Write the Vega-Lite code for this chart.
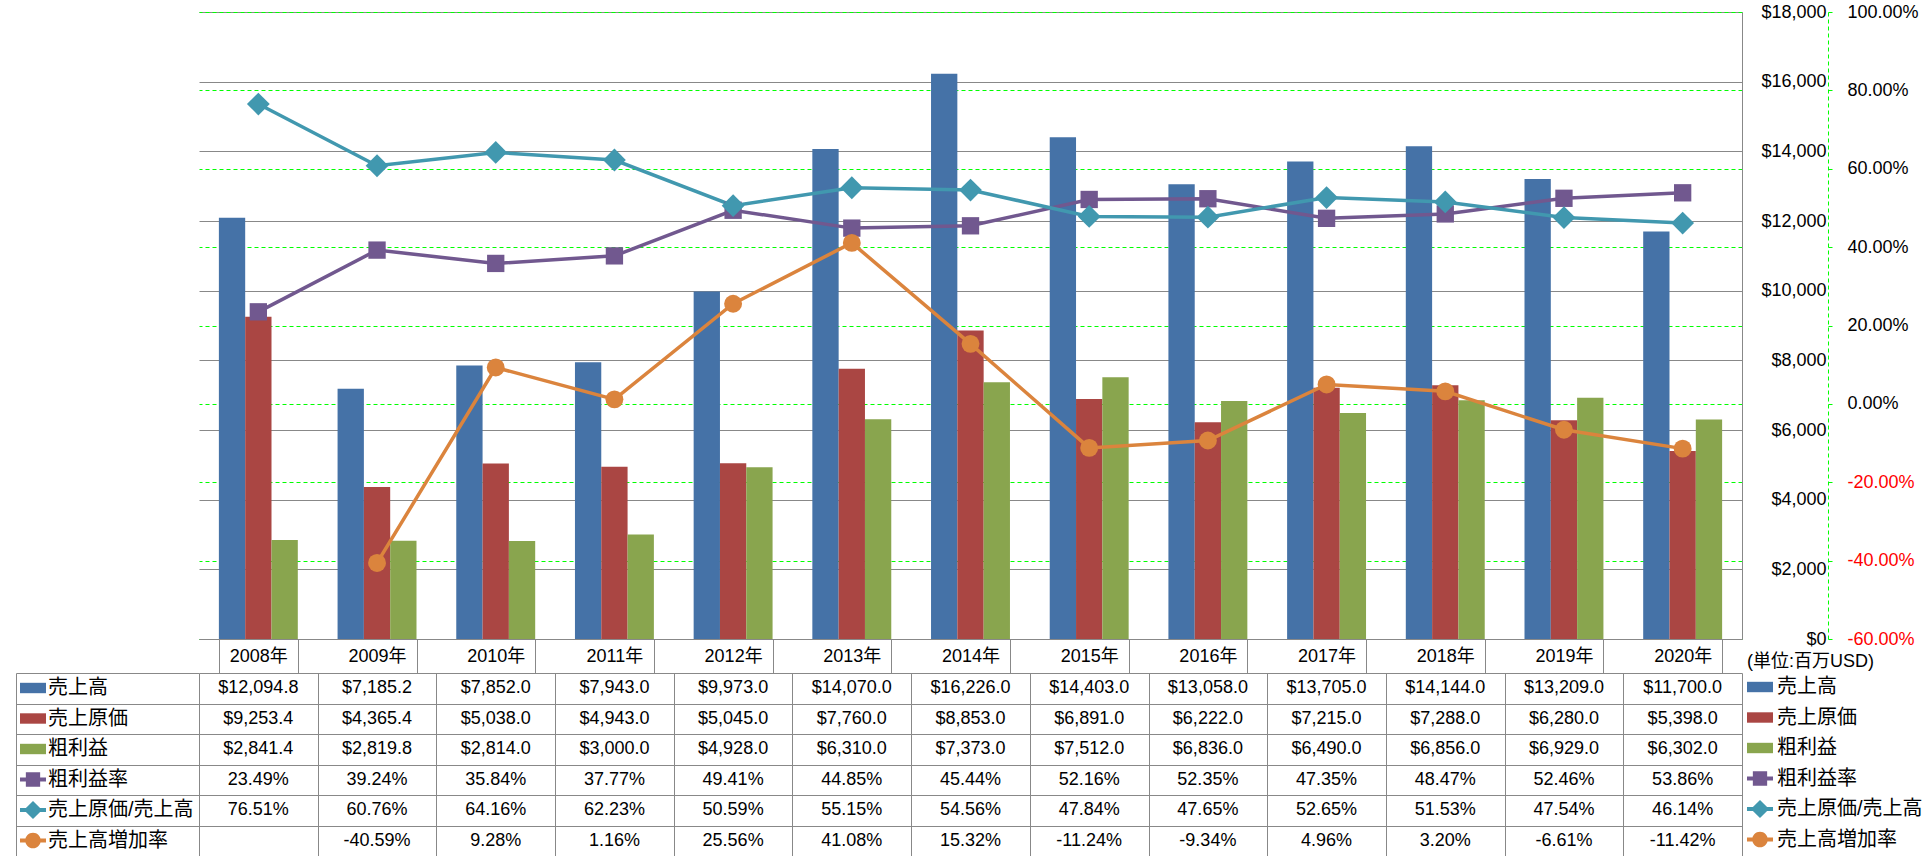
{
  "$schema": "https://vega.github.io/schema/vega-lite/v6.json",
  "padding": {"left": 16, "top": 3, "right": 0, "bottom": 0},
  "background": "white",
  "config": {
    "font": "Liberation Sans, Noto Sans CJK JP",
    "view": {"stroke": null},
    "locale": {"number": {"decimal": ".", "thousands": ",", "grouping": [3], "currency": ["$", ""], "minus": "-"}},
    "axis": {"labelFontSize": 18, "labelColor": "#000000", "title": null}
  },
  "datasets": {
    "fin": [
      {"year": "2008年", "series": "売上高", "value": 12094.8},
      {"year": "2009年", "series": "売上高", "value": 7185.2},
      {"year": "2010年", "series": "売上高", "value": 7852.0},
      {"year": "2011年", "series": "売上高", "value": 7943.0},
      {"year": "2012年", "series": "売上高", "value": 9973.0},
      {"year": "2013年", "series": "売上高", "value": 14070.0},
      {"year": "2014年", "series": "売上高", "value": 16226.0},
      {"year": "2015年", "series": "売上高", "value": 14403.0},
      {"year": "2016年", "series": "売上高", "value": 13058.0},
      {"year": "2017年", "series": "売上高", "value": 13705.0},
      {"year": "2018年", "series": "売上高", "value": 14144.0},
      {"year": "2019年", "series": "売上高", "value": 13209.0},
      {"year": "2020年", "series": "売上高", "value": 11700.0},
      {"year": "2008年", "series": "売上原価", "value": 9253.4},
      {"year": "2009年", "series": "売上原価", "value": 4365.4},
      {"year": "2010年", "series": "売上原価", "value": 5038.0},
      {"year": "2011年", "series": "売上原価", "value": 4943.0},
      {"year": "2012年", "series": "売上原価", "value": 5045.0},
      {"year": "2013年", "series": "売上原価", "value": 7760.0},
      {"year": "2014年", "series": "売上原価", "value": 8853.0},
      {"year": "2015年", "series": "売上原価", "value": 6891.0},
      {"year": "2016年", "series": "売上原価", "value": 6222.0},
      {"year": "2017年", "series": "売上原価", "value": 7215.0},
      {"year": "2018年", "series": "売上原価", "value": 7288.0},
      {"year": "2019年", "series": "売上原価", "value": 6280.0},
      {"year": "2020年", "series": "売上原価", "value": 5398.0},
      {"year": "2008年", "series": "粗利益", "value": 2841.4},
      {"year": "2009年", "series": "粗利益", "value": 2819.8},
      {"year": "2010年", "series": "粗利益", "value": 2814.0},
      {"year": "2011年", "series": "粗利益", "value": 3000.0},
      {"year": "2012年", "series": "粗利益", "value": 4928.0},
      {"year": "2013年", "series": "粗利益", "value": 6310.0},
      {"year": "2014年", "series": "粗利益", "value": 7373.0},
      {"year": "2015年", "series": "粗利益", "value": 7512.0},
      {"year": "2016年", "series": "粗利益", "value": 6836.0},
      {"year": "2017年", "series": "粗利益", "value": 6490.0},
      {"year": "2018年", "series": "粗利益", "value": 6856.0},
      {"year": "2019年", "series": "粗利益", "value": 6929.0},
      {"year": "2020年", "series": "粗利益", "value": 6302.0},
      {"year": "2008年", "series": "粗利益率", "value": 0.2349},
      {"year": "2009年", "series": "粗利益率", "value": 0.3924},
      {"year": "2010年", "series": "粗利益率", "value": 0.3584},
      {"year": "2011年", "series": "粗利益率", "value": 0.3777},
      {"year": "2012年", "series": "粗利益率", "value": 0.4941},
      {"year": "2013年", "series": "粗利益率", "value": 0.4485},
      {"year": "2014年", "series": "粗利益率", "value": 0.4544},
      {"year": "2015年", "series": "粗利益率", "value": 0.5216},
      {"year": "2016年", "series": "粗利益率", "value": 0.5235},
      {"year": "2017年", "series": "粗利益率", "value": 0.4735},
      {"year": "2018年", "series": "粗利益率", "value": 0.4847},
      {"year": "2019年", "series": "粗利益率", "value": 0.5246},
      {"year": "2020年", "series": "粗利益率", "value": 0.5386},
      {"year": "2008年", "series": "売上原価/売上高", "value": 0.7651},
      {"year": "2009年", "series": "売上原価/売上高", "value": 0.6076},
      {"year": "2010年", "series": "売上原価/売上高", "value": 0.6416},
      {"year": "2011年", "series": "売上原価/売上高", "value": 0.6223},
      {"year": "2012年", "series": "売上原価/売上高", "value": 0.5059},
      {"year": "2013年", "series": "売上原価/売上高", "value": 0.5515},
      {"year": "2014年", "series": "売上原価/売上高", "value": 0.5456},
      {"year": "2015年", "series": "売上原価/売上高", "value": 0.4784},
      {"year": "2016年", "series": "売上原価/売上高", "value": 0.4765},
      {"year": "2017年", "series": "売上原価/売上高", "value": 0.5265},
      {"year": "2018年", "series": "売上原価/売上高", "value": 0.5153},
      {"year": "2019年", "series": "売上原価/売上高", "value": 0.4754},
      {"year": "2020年", "series": "売上原価/売上高", "value": 0.4614},
      {"year": "2009年", "series": "売上高増加率", "value": -0.4059},
      {"year": "2010年", "series": "売上高増加率", "value": 0.0928},
      {"year": "2011年", "series": "売上高増加率", "value": 0.0116},
      {"year": "2012年", "series": "売上高増加率", "value": 0.2556},
      {"year": "2013年", "series": "売上高増加率", "value": 0.4108},
      {"year": "2014年", "series": "売上高増加率", "value": 0.1532},
      {"year": "2015年", "series": "売上高増加率", "value": -0.1124},
      {"year": "2016年", "series": "売上高増加率", "value": -0.0934},
      {"year": "2017年", "series": "売上高増加率", "value": 0.0496},
      {"year": "2018年", "series": "売上高増加率", "value": 0.0320},
      {"year": "2019年", "series": "売上高増加率", "value": -0.0661},
      {"year": "2020年", "series": "売上高増加率", "value": -0.1142}
    ]
  },
  "columns": 2,
  "spacing": {"row": 34, "column": 0},
  "bounds": "flush",
  "resolve": {
    "scale": {"fill": "independent", "shape": "independent"},
    "legend": {"fill": "independent", "shape": "independent"}
  },
  "concat": [
    {
      "width": 183,
      "height": 627,
      "data": {"values": [{"a": 1}]},
      "mark": {"type": "text"},
      "encoding": {"text": {"value": ""}}
    },
    {
      "width": 1543,
      "height": 627,
      "data": {"name": "fin"},
      "layer": [
        {
          "transform": [{"filter": {"field": "series", "oneOf": ["売上高", "売上原価", "粗利益"]}}],
          "mark": {"type": "bar"},
          "encoding": {
            "x": {"field": "year", "type": "nominal", "sort": null,
              "scale": {"type": "band", "domain": ["2008年","2009年","2010年","2011年","2012年","2013年","2014年","2015年","2016年","2017年","2018年","2019年","2020年"], "paddingInner": 0.335, "paddingOuter": 0.1675},
              "axis": {"orient": "bottom", "labelAngle": 0, "labelFontSize": 18, "labelBaseline": "middle", "labelPadding": -17, "tickBand": "extent", "tickSize": 34, "tickColor": "#888888", "domainColor": "#888888", "grid": false, "title": null}},
            "xOffset": {"field": "series", "type": "nominal", "scale": {"domain": ["売上高", "売上原価", "粗利益"], "paddingInner": 0, "paddingOuter": 0}},
            "y": {"field": "value", "type": "quantitative", "stack": null,
              "scale": {"domain": [0, 18000], "nice": false},
              "axis": {"orient": "right", "values": [0,2000,4000,6000,8000,10000,12000,14000,16000,18000], "format": "$,.0f", "grid": true, "gridColor": "#888888", "gridWidth": 1, "ticks": false, "domain": true, "domainColor": "#888888", "labelAlign": "right", "labelPadding": 84, "labelFontSize": 18, "labelFlush": false, "labelOverlap": false, "title": null, "zindex": 0}},
            "color": {"field": "series", "type": "nominal", "scale": {"domain": ["売上高", "売上原価", "粗利益", "粗利益率", "売上原価/売上高", "売上高増加率"], "range": ["#4572A7", "#AA4643", "#89A54E", "#71588F", "#4198AF", "#DB843D"]}, "legend": null}
          }
        },
        {
          "encoding": {
            "x": {"field": "year", "type": "nominal", "sort": null,
              "scale": {"type": "band", "domain": ["2008年","2009年","2010年","2011年","2012年","2013年","2014年","2015年","2016年","2017年","2018年","2019年","2020年"], "paddingInner": 0.335, "paddingOuter": 0.1675},
              "axis": {"orient": "bottom", "labelAngle": 0, "labelFontSize": 18, "labelBaseline": "middle", "labelPadding": -17, "tickBand": "extent", "tickSize": 34, "tickColor": "#888888", "domainColor": "#888888", "grid": false, "title": null}},
            "y": {"field": "value", "type": "quantitative",
              "scale": {"domain": [-0.6, 1.0], "nice": false, "zero": false},
              "axis": {"orient": "right", "offset": 86, "values": [-0.6,-0.4,-0.2,0,0.2,0.4,0.6,0.8,1.0], "format": ".2%", "grid": true, "gridColor": "#00FF00", "gridDash": [4, 3], "gridWidth": 1, "ticks": true, "tickColor": "#00FF00", "tickSize": 4, "domain": true, "domainColor": "#00FF00", "domainDash": [4, 3], "labelPadding": 15, "labelFontSize": 18, "labelColor": {"condition": {"test": "datum.value < 0", "value": "#FF0000"}, "value": "#000000"}, "labelFlush": false, "labelOverlap": false, "title": null, "zindex": 0}},
            "color": {"field": "series", "type": "nominal", "scale": {"domain": ["売上高", "売上原価", "粗利益", "粗利益率", "売上原価/売上高", "売上高増加率"], "range": ["#4572A7", "#AA4643", "#89A54E", "#71588F", "#4198AF", "#DB843D"]}, "legend": null}
          },
          "layer": [
            {
              "transform": [{"filter": {"field": "series", "oneOf": ["粗利益率", "売上原価/売上高", "売上高増加率"]}}],
              "mark": {"type": "line", "strokeWidth": 3.5}
            },
            {
              "transform": [{"filter": {"field": "series", "equal": "粗利益率"}}],
              "mark": {"type": "point", "filled": true, "opacity": 1, "shape": "square", "size": 300, "strokeWidth": 0}
            },
            {
              "transform": [{"filter": {"field": "series", "equal": "売上原価/売上高"}}],
              "mark": {"type": "point", "filled": true, "opacity": 1, "shape": "diamond", "size": 520, "strokeWidth": 0}
            },
            {
              "transform": [{"filter": {"field": "series", "equal": "売上高増加率"}}],
              "mark": {"type": "point", "filled": true, "opacity": 1, "shape": "circle", "size": 320, "strokeWidth": 0}
            }
          ]
        },
        {
          "transform": [{"filter": {"field": "series", "equal": "__none__"}}],
          "mark": {"type": "point", "filled": true, "opacity": 1},
          "encoding": {
            "fill": {"field": "series", "type": "nominal",
              "scale": {"domain": ["売上高", "売上原価", "粗利益", "粗利益率", "売上原価/売上高", "売上高増加率"], "range": ["#4572A7", "#AA4643", "#89A54E", "#71588F", "#4198AF", "#DB843D"]},
              "legend": {"title": "(単位:百万USD)", "orient": "none", "legendX": 1548, "legendY": 641, "symbolSize": 676, "symbolStrokeWidth": 0, "symbolOpacity": 1, "labelFontSize": 20, "labelOffset": 4, "rowPadding": 7.5, "titleFontSize": 18, "titleFontWeight": "normal", "titlePadding": 3, "padding": 0, "labelColor": "#000000", "titleColor": "#000000", "labelLimit": 400}},
            "shape": {"field": "series", "type": "nominal",
              "scale": {"domain": ["売上高", "売上原価", "粗利益", "粗利益率", "売上原価/売上高", "売上高増加率"], "range": ["M-1,-0.4H1V0.4H-1Z", "M-1,-0.4H1V0.4H-1Z", "M-1,-0.4H1V0.4H-1Z", "M-1,-0.15H1V0.15H-1Z M-0.55,-0.55H0.55V0.55H-0.55Z", "M-1,-0.15H1V0.15H-1Z M0,-0.7L0.7,0L0,0.7L-0.7,0Z", "M-1,-0.15H1V0.15H-1Z M-0.6,0A0.6,0.6 0 1,1 0.6,0A0.6,0.6 0 1,1 -0.6,0Z"]},
              "legend": {"title": "(単位:百万USD)", "orient": "none", "legendX": 1548, "legendY": 641, "symbolSize": 676, "symbolStrokeWidth": 0, "symbolOpacity": 1, "labelFontSize": 20, "labelOffset": 4, "rowPadding": 7.5, "titleFontSize": 18, "titleFontWeight": "normal", "titlePadding": 3, "padding": 0, "labelColor": "#000000", "titleColor": "#000000", "labelLimit": 400}}
          }
        }
      ],
      "resolve": {"scale": {"y": "independent"}}
    },
    {
      "width": 183,
      "height": 183,
      "data": {"name": "fin"},
      "transform": [{"filter": {"field": "series", "equal": "__none__"}}],
      "mark": {"type": "point", "filled": true, "opacity": 1},
      "encoding": {
        "y": {"field": "series", "type": "nominal", "sort": null,
          "scale": {"type": "band", "domain": ["売上高", "売上原価", "粗利益", "粗利益率", "売上原価/売上高", "売上高増加率"], "paddingInner": 0, "paddingOuter": 0},
          "axis": {"orient": "left", "labels": false, "ticks": false, "domain": true, "domainColor": "#888888", "grid": true, "gridColor": "#888888", "gridWidth": 1, "tickBand": "extent", "title": null}},
        "fill": {"field": "series", "type": "nominal",
          "scale": {"domain": ["売上高", "売上原価", "粗利益", "粗利益率", "売上原価/売上高", "売上高増加率"], "range": ["#4572A7", "#AA4643", "#89A54E", "#71588F", "#4198AF", "#DB843D"]},
          "legend": {"title": null, "orient": "none", "legendX": 4, "legendY": 2, "symbolSize": 676, "symbolStrokeWidth": 0, "symbolOpacity": 1, "labelFontSize": 20, "labelOffset": 2, "rowPadding": 7.5, "padding": 0, "labelColor": "#000000", "labelLimit": 400}},
        "shape": {"field": "series", "type": "nominal",
          "scale": {"domain": ["売上高", "売上原価", "粗利益", "粗利益率", "売上原価/売上高", "売上高増加率"], "range": ["M-1,-0.4H1V0.4H-1Z", "M-1,-0.4H1V0.4H-1Z", "M-1,-0.4H1V0.4H-1Z", "M-1,-0.15H1V0.15H-1Z M-0.55,-0.55H0.55V0.55H-0.55Z", "M-1,-0.15H1V0.15H-1Z M0,-0.7L0.7,0L0,0.7L-0.7,0Z", "M-1,-0.15H1V0.15H-1Z M-0.6,0A0.6,0.6 0 1,1 0.6,0A0.6,0.6 0 1,1 -0.6,0Z"]},
          "legend": {"title": null, "orient": "none", "legendX": 4, "legendY": 2, "symbolSize": 676, "symbolStrokeWidth": 0, "symbolOpacity": 1, "labelFontSize": 20, "labelOffset": 2, "rowPadding": 7.5, "padding": 0, "labelColor": "#000000", "labelLimit": 400}}
      }
    },
    {
      "width": 1543,
      "height": 183,
      "data": {"name": "fin"},
      "encoding": {
        "x": {"field": "year", "type": "nominal", "sort": null,
          "scale": {"type": "band", "domain": ["2008年","2009年","2010年","2011年","2012年","2013年","2014年","2015年","2016年","2017年","2018年","2019年","2020年"], "paddingInner": 0, "paddingOuter": 0},
          "axis": {"orient": "bottom", "labels": false, "ticks": false, "domain": false, "grid": true, "gridColor": "#888888", "gridWidth": 1, "tickBand": "extent", "title": null}},
        "y": {"field": "series", "type": "nominal", "sort": null,
          "scale": {"type": "band", "domain": ["売上高", "売上原価", "粗利益", "粗利益率", "売上原価/売上高", "売上高増加率"], "paddingInner": 0, "paddingOuter": 0},
          "axis": {"orient": "right", "labels": false, "ticks": false, "domain": false, "grid": true, "gridColor": "#888888", "gridWidth": 1, "tickBand": "extent", "title": null}}
      },
      "layer": [
        {
          "transform": [{"filter": {"field": "series", "oneOf": ["売上高", "売上原価", "粗利益"]}}],
          "mark": {"type": "text", "fontSize": 18, "color": "#000000"},
          "encoding": {"text": {"field": "value", "type": "quantitative", "format": "$,.1f"}}
        },
        {
          "transform": [{"filter": {"field": "series", "oneOf": ["粗利益率", "売上原価/売上高", "売上高増加率"]}}],
          "mark": {"type": "text", "fontSize": 18, "color": "#000000"},
          "encoding": {"text": {"field": "value", "type": "quantitative", "format": ".2%"}}
        }
      ]
    }
  ]
}
